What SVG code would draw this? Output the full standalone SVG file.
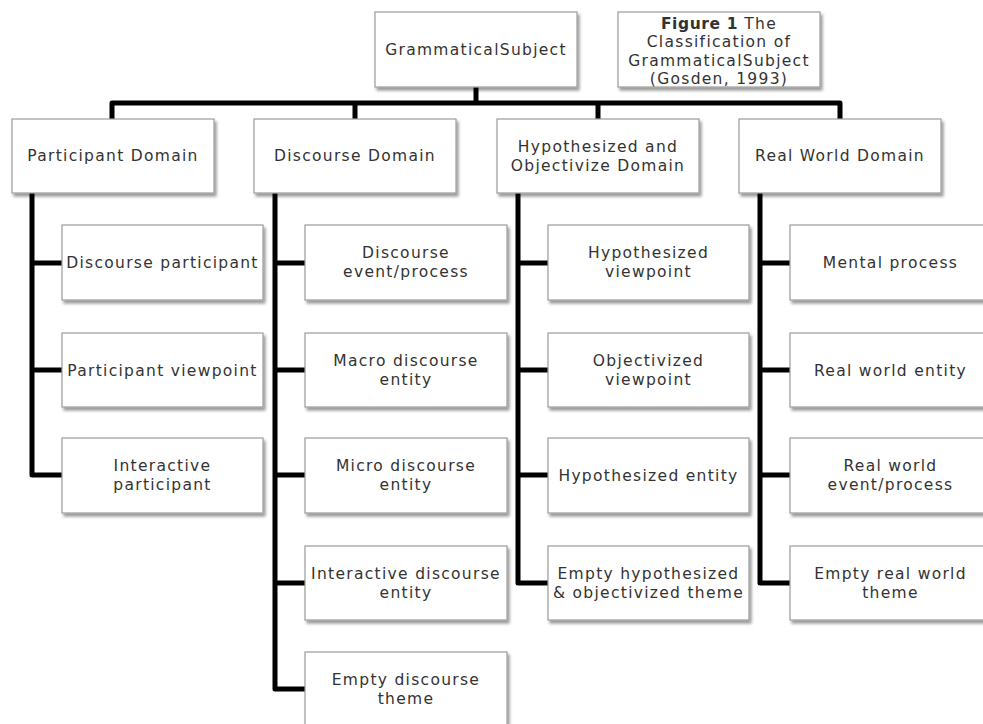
<svg xmlns="http://www.w3.org/2000/svg" width="983" height="724" viewBox="0 0 983 724">
<defs>
<filter id="sh" x="-10%" y="-10%" width="130%" height="140%">
<feDropShadow dx="2" dy="3" stdDeviation="1.8" flood-color="#000" flood-opacity="0.4"/>
</filter>
</defs>
<style>
.box{fill:#fff;stroke:#9c9c9c;stroke-width:1.2;filter:url(#sh)}
.t{font-family:"DejaVu Sans","Open Sans",sans-serif;font-size:15.5px;letter-spacing:1.3px;fill:#333;text-anchor:middle}
.b{font-weight:bold;letter-spacing:0.6px}
.c{fill:none;stroke:#000;stroke-width:5;stroke-linejoin:round;stroke-linecap:butt}
</style>
<rect width="983" height="724" fill="#fff"/>
<g id="connectors">
<path class="c" d="M476,87 V103"/>
<path class="c" d="M112,119 V103 H840 V119"/>
<path class="c" d="M355,103 V119"/>
<path class="c" d="M598,103 V119"/>
<path class="c" d="M32,193 V475 H62 M32,263 H62 M32,370 H62"/>
<path class="c" d="M275,193 V689 H305 M275,263 H305 M275,370 H305 M275,475 H305 M275,583 H305"/>
<path class="c" d="M518,193 V583 H548 M518,263 H548 M518,370 H548 M518,475 H548"/>
<path class="c" d="M760,193 V583 H790 M760,263 H790 M760,370 H790 M760,475 H790"/>
</g>
<g id="root"><rect class="box" x="375" y="12" width="202" height="75"/><text class="t" x="476" y="55">GrammaticalSubject</text></g>
<g id="caption"><rect class="box" x="618" y="12" width="202" height="75"/>
<text class="t" x="719" y="28.5"><tspan class="b">Figure 1</tspan> The</text>
<text class="t" x="719" y="47">Classification of</text>
<text class="t" x="719" y="65.5">GrammaticalSubject</text>
<text class="t" x="719" y="84">(Gosden, 1993)</text></g>

<g id="participant-domain"><rect class="box" x="12" y="119" width="202" height="74"/><text class="t" x="113" y="161">Participant Domain</text></g>
<g id="discourse-domain"><rect class="box" x="254" y="119" width="202" height="74"/><text class="t" x="355" y="161">Discourse Domain</text></g>
<g id="hypothesized-domain"><rect class="box" x="497" y="119" width="202" height="74"/><text class="t" x="598" y="151.5">Hypothesized and</text><text class="t" x="598" y="170.5">Objectivize Domain</text></g>
<g id="realworld-domain"><rect class="box" x="739" y="119" width="202" height="74"/><text class="t" x="840" y="161">Real World Domain</text></g>

<g id="discourse-participant"><rect class="box" x="62" y="225" width="201" height="75"/><text class="t" x="162.5" y="268">Discourse participant</text></g>
<g id="participant-viewpoint"><rect class="box" x="62" y="333" width="201" height="74"/><text class="t" x="162.5" y="375.5">Participant viewpoint</text></g>
<g id="interactive-participant"><rect class="box" x="62" y="438" width="201" height="75"/><text class="t" x="162.5" y="471">Interactive</text><text class="t" x="162.5" y="490">participant</text></g>

<g id="discourse-event"><rect class="box" x="305" y="225" width="202" height="75"/><text class="t" x="406" y="258">Discourse</text><text class="t" x="406" y="277">event/process</text></g>
<g id="macro-discourse"><rect class="box" x="305" y="333" width="202" height="74"/><text class="t" x="406" y="365.5">Macro discourse</text><text class="t" x="406" y="384.5">entity</text></g>
<g id="micro-discourse"><rect class="box" x="305" y="438" width="202" height="75"/><text class="t" x="406" y="471">Micro discourse</text><text class="t" x="406" y="490">entity</text></g>
<g id="interactive-discourse"><rect class="box" x="305" y="546" width="202" height="74"/><text class="t" x="406" y="578.5">Interactive discourse</text><text class="t" x="406" y="597.5">entity</text></g>
<g id="empty-discourse"><rect class="box" x="305" y="652" width="202" height="75"/><text class="t" x="406" y="685">Empty discourse</text><text class="t" x="406" y="704">theme</text></g>

<g id="hypothesized-viewpoint"><rect class="box" x="548" y="225" width="201" height="75"/><text class="t" x="648.5" y="258">Hypothesized</text><text class="t" x="648.5" y="277">viewpoint</text></g>
<g id="objectivized-viewpoint"><rect class="box" x="548" y="333" width="201" height="74"/><text class="t" x="648.5" y="365.5">Objectivized</text><text class="t" x="648.5" y="384.5">viewpoint</text></g>
<g id="hypothesized-entity"><rect class="box" x="548" y="438" width="201" height="75"/><text class="t" x="648.5" y="481">Hypothesized entity</text></g>
<g id="empty-hypothesized"><rect class="box" x="548" y="546" width="201" height="74"/><text class="t" x="648.5" y="578.5">Empty hypothesized</text><text class="t" x="648.5" y="597.5">&amp; objectivized theme</text></g>

<g id="mental-process"><rect class="box" x="790" y="225" width="201" height="75"/><text class="t" x="890.5" y="268">Mental process</text></g>
<g id="real-world-entity"><rect class="box" x="790" y="333" width="201" height="74"/><text class="t" x="890.5" y="375.5">Real world entity</text></g>
<g id="real-world-event"><rect class="box" x="790" y="438" width="201" height="75"/><text class="t" x="890.5" y="471">Real world</text><text class="t" x="890.5" y="490">event/process</text></g>
<g id="empty-real-world"><rect class="box" x="790" y="546" width="201" height="74"/><text class="t" x="890.5" y="578.5">Empty real world</text><text class="t" x="890.5" y="597.5">theme</text></g>
</svg>
